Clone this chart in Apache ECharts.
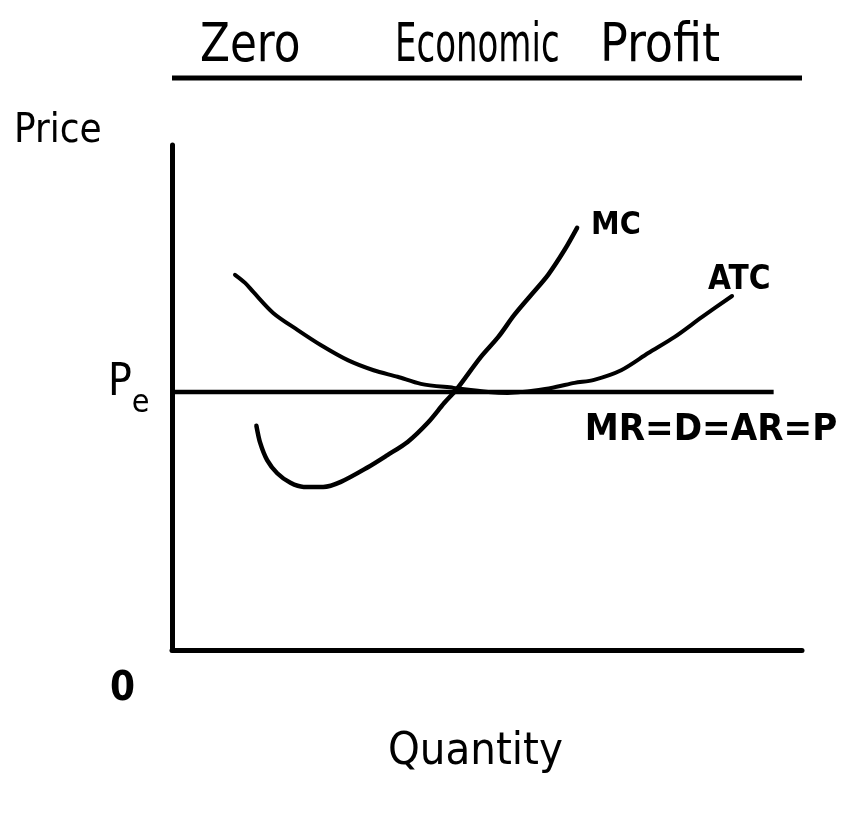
<!DOCTYPE html>
<html>
<head>
<meta charset="utf-8">
<script src="https://cdn.jsdelivr.net/npm/echarts@6/dist/echarts.min.js"></script>
<style>
  html, body { margin: 0; padding: 0; background: #fff; }
  #chart { width: 866px; height: 814px; }
</style>
</head>
<body>
<div id="chart"></div>
<script>
// curve points (quantity, price on a 0-10 scale)
var mcQty   = [1.34, 1.40, 1.51, 1.67, 1.88, 2.09, 2.40, 2.68, 3.11, 3.42, 3.74, 4.06, 4.32, 4.51, 4.90, 5.18, 5.43, 5.70, 5.97, 6.23, 6.43]
var mcPrice = [4.44, 4.10, 3.76, 3.50, 3.31, 3.23, 3.23, 3.33, 3.62, 3.86, 4.12, 4.50, 4.89, 5.15, 5.80, 6.20, 6.63, 7.03, 7.43, 7.92, 8.36]

var atcQty   = [1.00, 1.16, 1.29, 1.61, 1.99, 2.36, 2.79, 3.20, 3.58, 3.95, 4.47, 5.02, 5.33, 6.02, 6.39, 6.70, 7.13, 7.56, 7.98, 8.41, 8.89]
var atcPrice = [7.43, 7.27, 7.09, 6.67, 6.34, 6.04, 5.74, 5.54, 5.41, 5.27, 5.19, 5.11, 5.09, 5.19, 5.29, 5.35, 5.54, 5.88, 6.20, 6.59, 7.01]

var mrQty = [0, 9.55]
var mrPrice = [5.11, 5.11]

var titleWords = ['Zero', 'Economic', 'Profit']
var curveNames = ['MC', 'ATC', 'MR=D=AR=P']

var font = '"Liberation Sans Narrow", "DejaVu Sans Condensed", sans-serif'

function pairs(xs, ys) {
  return xs.map(function (x, i) { return [x, ys[i]] })
}

var myChart = echarts.init(document.getElementById('chart'))

myChart.setOption({
  animation: false,
  backgroundColor: '#fff',
  grid: { left: 172, right: 64, top: 145, bottom: 164 },
  xAxis: {
    type: 'value', min: 0, max: 10,
    axisLine: { show: true, onZero: false, lineStyle: { color: '#000', width: 5 } },
    axisTick: { show: false }, axisLabel: { show: false }, splitLine: { show: false }
  },
  yAxis: {
    type: 'value', min: 0, max: 10,
    axisLine: { show: true, onZero: false, lineStyle: { color: '#000', width: 5 } },
    axisTick: { show: false }, axisLabel: { show: false }, splitLine: { show: false }
  },
  series: [
    {
      name: curveNames[0], type: 'line', smooth: 0.3, symbol: 'none',
      data: pairs(mcQty, mcPrice),
      lineStyle: { color: '#000', width: 4.5, cap: 'round', join: 'round' },
      endLabel: {
        show: true, formatter: curveNames[0], offset: [6, -2],
        fontFamily: font, fontSize: 32, fontWeight: 'bold', color: '#000'
      }
    },
    {
      name: curveNames[1], type: 'line', smooth: 0.3, symbol: 'none',
      data: pairs(atcQty, atcPrice),
      lineStyle: { color: '#000', width: 4, cap: 'round', join: 'round' },
      endLabel: {
        show: true, formatter: curveNames[1], offset: [-32, -16],
        fontFamily: font, fontSize: 33, fontWeight: 'bold', color: '#000'
      }
    },
    {
      name: curveNames[2], type: 'line', symbol: 'none',
      data: pairs(mrQty, mrPrice),
      lineStyle: { color: '#000', width: 4.5 },
      endLabel: {
        show: true, formatter: curveNames[2], offset: [-197, 38],
        fontFamily: font, fontSize: 38, fontWeight: 'bold', color: '#000'
      }
    }
  ],
  graphic: [
    { type: 'line', shape: { x1: 172, y1: 78, x2: 802, y2: 78 }, style: { stroke: '#000', lineWidth: 5 } },
    { type: 'text', x: 200, y: 20, scaleX: 0.9, style: { text: titleWords[0], font: '54px ' + font, fill: '#000' } },
    { type: 'text', x: 395, y: 20, scaleX: 0.7, style: { text: titleWords[1], font: '54px ' + font, fill: '#000' } },
    { type: 'text', x: 600, y: 20, scaleX: 0.95, style: { text: titleWords[2], font: '54px ' + font, fill: '#000' } },
    { type: 'text', left: 14, top: 112, style: { text: 'Price', font: '40px ' + font, fill: '#000' } },
    {
      type: 'text', left: 108, top: 362,
      style: {
        text: '{p|P}{e|e}', fill: '#000',
        rich: {
          p: { fontFamily: font, fontSize: 44, verticalAlign: 'top' },
          e: { fontFamily: font, fontSize: 32, padding: [26, 0, 0, 0] }
        }
      }
    },
    { type: 'text', left: 110, top: 670, style: { text: '0', font: 'bold 40px ' + font, fill: '#000' } },
    { type: 'text', left: 388, top: 730, style: { text: 'Quantity', font: '45px ' + font, fill: '#000' } }
  ]
})
</script>
</body>
</html>
